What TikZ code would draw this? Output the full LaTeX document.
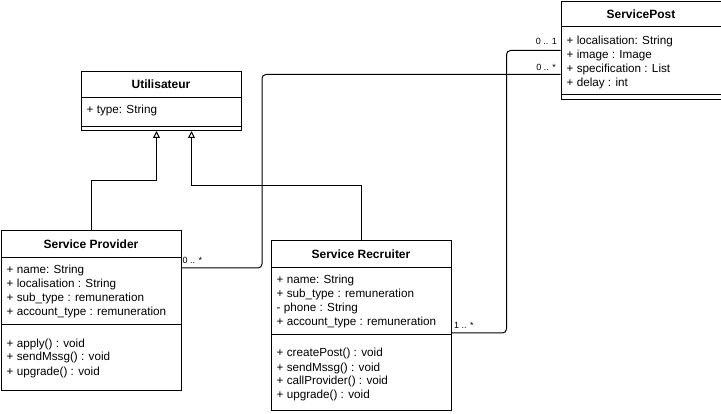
\documentclass[tikz,border=0pt]{standalone}
\usepackage{fontspec}
\setmainfont{Liberation Sans}
\usetikzlibrary{arrows.meta}

\tikzset{
  classhead/.style={draw, line width=1pt, anchor=north west, inner sep=0pt, minimum width=#1, minimum height=26pt, font=\bfseries\fontsize{12}{14}\selectfont},
  classpart/.style={draw, line width=1pt, anchor=north west, inner sep=0pt, minimum width=#1},
  members/.style={anchor=north west, inner sep=0pt, align=left, font=\fontsize{11.7}{14}\selectfont},
  mult/.style={inner sep=0pt, font=\fontsize{9}{10}\selectfont},
  inherit/.style={line width=1pt, -{Triangle[open, length=7pt, width=7pt]}},
  assoc/.style={line width=1pt, rounded corners=4pt}
}

\begin{document}
\begin{tikzpicture}[x=1pt, y=-1pt]
\useasboundingbox (0,0) rectangle (721,414);
% Utilisateur
\node (u) at (80.5,71) [classhead=160pt] {Utilisateur};
	\node (uattr) at (80.5,97) [classpart=160pt, minimum height=29pt] {};
	\node (umeth) at (80.5,126) [classpart=160pt, minimum height=4pt] {};
	\node (utext) at (86.5,104) [members] {\strut + type: String};
% ServicePost
\node (post) at (560.5,1.5) [classhead=160pt, minimum height=25pt] {ServicePost};
	\node (pattr) at (560.5,26.5) [classpart=160pt, minimum height=67.5pt] {};
	\node (pmeth) at (560.5,94) [classpart=160pt, minimum height=5pt] {};
	\node (ptext) at (566.5,35) [members] {\strut + localisation: String\\ + image : Image\\ + specification : List\\ + delay : int};
% Service Provider
\node (sp) at (0.5,230.5) [classhead=180pt, minimum height=26.5pt] {Service Provider};
	\node (spattr) at (0.5,257) [classpart=180pt, minimum height=67pt] {};
	\node (spmeth) at (0.5,324) [classpart=180pt, minimum height=66pt] {};
	\node (sptext) at (6.5,264) [members] {\strut + name: String\\ + localisation : String\\ + sub\_type : remuneration\\ + account\_type : remuneration};
	\node (spops) at (6.5,337) [members] {\strut + apply() : void\\ + sendMssg() : void\\ + upgrade() : void};
% Service Recruiter
\node (sr) at (270.5,240.5) [classhead=180pt, minimum height=26.5pt] {Service Recruiter};
	\node (srattr) at (270.5,267) [classpart=180pt, minimum height=67pt] {};
	\node (srmeth) at (270.5,334) [classpart=180pt, minimum height=76pt] {};
	\node (srtext) at (276.5,274) [members] {\strut + name: String\\ + sub\_type : remuneration\\ - phone : String\\ + account\_type : remuneration};
	\node (srops) at (276.5,347) [members] {\strut + createPost() : void\\ + sendMssg() : void\\ + callProvider() : void\\ + upgrade() : void};
% inheritance
\draw[inherit] (sp.north) -- ++(0,-50) -| ([xshift=-4.5pt]umeth.south);
\draw[inherit] (sr.north) -- ++(0,-55) -| ([xshift=30.5pt]umeth.south);
% associations
\draw[assoc] ([yshift=-11pt]spattr.north east) -- ++(80.5,0) |- ([yshift=-48pt]pattr.north west);
\draw[assoc] ([yshift=-66pt]srattr.north east) -- ++(55,0) |- ([yshift=-24pt]pattr.north west);
\node (m1) at (182.5,263.5) [mult, anchor=base west] {0 .. *};
\node (m2) at (556,70.5) [mult, anchor=base east] {0 .. *};
\node (m3) at (557,45) [mult, anchor=base east] {0 .. 1};
\node (m4) at (454,328.5) [mult, anchor=base west] {1 .. *};
\end{tikzpicture}
\end{document}
